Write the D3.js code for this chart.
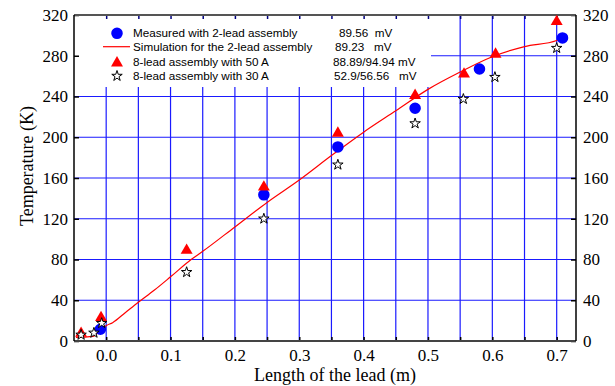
<!DOCTYPE html>
<html>
<head>
<meta charset="utf-8">
<script src="https://cdn.jsdelivr.net/npm/d3@7"></script>
<style>
  body { margin: 0; background: #fff; }
  svg { display: block; }
  .legend text { font-family: "Liberation Sans", Arial, sans-serif; font-size: 11.7px; white-space: pre; }
</style>
</head>
<body>
<div id="chart"></div>
<script>
// data
const measuredX = [-0.009, 0.245, 0.360, 0.480, 0.580, 0.709];
const measuredT = [11.5, 143.5, 190.5, 228.5, 267, 297.5];

const lead50X = [-0.039, -0.008, 0.125, 0.245, 0.360, 0.480, 0.556, 0.605, 0.700];
const lead50T = [7.5, 23, 89, 151, 204, 241, 262, 281.5, 313.5];

const lead30X = [-0.039, -0.019, -0.007, 0.125, 0.245, 0.360, 0.480, 0.555, 0.604, 0.700];
const lead30T = [6, 8, 17.5, 67.5, 120, 173, 213.5, 237.5, 259, 287.5];

const simX = [-0.047, -0.035, -0.02, -0.01, 0.0, 0.01, 0.03, 0.05, 0.075, 0.1, 0.132, 0.15, 0.2,
  0.25, 0.3, 0.35, 0.4, 0.45, 0.5, 0.55, 0.6, 0.65, 0.7, 0.709];
const simT = [3.6, 3.8, 4.5, 10, 15, 18, 28, 38, 50, 63, 80, 88, 112,
  136, 158, 182, 205, 226, 247, 264, 279, 289, 295, 298];

const xTicks = [0, 0.05, 0.1, 0.15, 0.2, 0.25, 0.3, 0.35, 0.4, 0.45, 0.5, 0.55, 0.6, 0.65, 0.7];
const yTicks = [0, 40, 80, 120, 160, 200, 240, 280, 320];

const legendLabels = ["Measured with 2-lead assembly", "Simulation for the 2-lead assembly",
  "8-lead assembly with 50 A", "8-lead assembly with 30 A"];
const legendValues = ["89.56  mV", "89.23   mV", "88.89/94.94 mV", "52.9/56.56   mV"];

const W = 615, H = 386;
const margin = { top: 15, right: 39, bottom: 45, left: 74 };
const serif = '"Liberation Serif", "Times New Roman", serif';

const svg = d3.select("#chart").append("svg")
  .attr("width", W)
  .attr("height", H);

const x = d3.scaleLinear().domain([-0.05, 0.73]).range([margin.left, W - margin.right]);
const y = d3.scaleLinear().domain([0, 320]).range([H - margin.bottom, margin.top]);

// grid
svg.append("g")
  .selectAll("line")
  .data(xTicks)
  .enter()
  .append("line")
  .attr("x1", d => x(d)).attr("x2", d => x(d))
  .attr("y1", y(0)).attr("y2", y(320))
  .attr("stroke", "#1a1aff")
  .attr("stroke-width", 1.2);

svg.append("g")
  .selectAll("line")
  .data(yTicks.slice(1, -1))
  .enter()
  .append("line")
  .attr("x1", x(-0.05)).attr("x2", x(0.73))
  .attr("y1", d => y(d)).attr("y2", d => y(d))
  .attr("stroke", "#1a1aff")
  .attr("stroke-width", 1.2);

// white box behind the legend
svg.append("rect")
  .attr("x", margin.left)
  .attr("y", margin.top)
  .attr("width", 431 - margin.left)
  .attr("height", 87 - margin.top)
  .attr("fill", "#fff");

// axes (ticks point inward)
const fmt = d => (Math.round(d * 100) % 10 === 0) ? d.toFixed(1) : "";
const serifAxis = g => g.attr("font-family", serif).attr("font-size", 17)
  .call(g => g.select(".domain").remove());

svg.append("g")
  .attr("transform", "translate(0," + y(0) + ")")
  .call(d3.axisBottom(x).tickValues(xTicks).tickFormat(fmt).tickSizeInner(-4).tickSizeOuter(0).tickPadding(8))
  .call(serifAxis);

svg.append("g")
  .attr("transform", "translate(0," + y(320) + ")")
  .call(d3.axisTop(x).tickValues(xTicks).tickFormat("").tickSizeInner(-4).tickSizeOuter(0))
  .call(serifAxis)
  .call(g => g.selectAll("line").attr("stroke", "#000080"));

svg.append("g")
  .attr("transform", "translate(" + x(-0.05) + ",0)")
  .call(d3.axisLeft(y).tickValues(yTicks).tickSizeInner(-5).tickSizeOuter(0).tickPadding(6))
  .call(serifAxis);

svg.append("g")
  .attr("transform", "translate(" + x(0.73) + ",0)")
  .call(d3.axisRight(y).tickValues(yTicks).tickSizeInner(-5).tickSizeOuter(0).tickPadding(7))
  .call(serifAxis);

svg.selectAll(".tick line").attr("stroke-width", 1.5);

// frame
svg.append("line").attr("x1", x(-0.05)).attr("x2", x(0.73)).attr("y1", y(320)).attr("y2", y(320))
  .attr("stroke", "#555").attr("stroke-width", 2);
svg.append("line").attr("x1", x(-0.05)).attr("x2", x(0.73)).attr("y1", y(0)).attr("y2", y(0))
  .attr("stroke", "#444").attr("stroke-width", 2);
svg.append("line").attr("x1", x(-0.05)).attr("x2", x(-0.05)).attr("y1", y(0)).attr("y2", y(320))
  .attr("stroke", "#000").attr("stroke-width", 1.5);
svg.append("line").attr("x1", x(0.73)).attr("x2", x(0.73)).attr("y1", y(0)).attr("y2", y(320))
  .attr("stroke", "#000").attr("stroke-width", 1.5);

// simulation curve
const sim = simX.map((d, i) => ({ x: d, t: simT[i] }));
svg.append("path")
  .datum(sim)
  .attr("fill", "none")
  .attr("stroke", "#ff0000")
  .attr("stroke-width", 1.2)
  .attr("d", d3.line().x(d => x(d.x)).y(d => y(d.t)).curve(d3.curveMonotoneX));

// markers
const circle = d3.symbol().type(d3.symbolCircle).size(105);
const tri = d3.symbol().type(d3.symbolTriangle).size(62);
const star = d3.symbol().type(d3.symbolStar).size(34);

svg.append("g")
  .selectAll("path")
  .data(measuredX.map((d, i) => ({ x: d, t: measuredT[i] })))
  .enter()
  .append("path")
  .attr("d", circle)
  .attr("transform", d => "translate(" + x(d.x) + "," + y(d.t) + ")")
  .attr("fill", "#0000ff");

svg.append("g")
  .selectAll("path")
  .data(lead50X.map((d, i) => ({ x: d, t: lead50T[i] })))
  .enter()
  .append("path")
  .attr("d", tri)
  .attr("transform", d => "translate(" + x(d.x) + "," + y(d.t) + ")")
  .attr("fill", "#ff0000");

svg.append("g")
  .selectAll("path")
  .data(lead30X.map((d, i) => ({ x: d, t: lead30T[i] })))
  .enter()
  .append("path")
  .attr("d", star)
  .attr("transform", d => "translate(" + x(d.x) + "," + y(d.t) + ")")
  .attr("fill", "#fff")
  .attr("stroke", "#000")
  .attr("stroke-width", 1);

// legend
const legend = svg.append("g").attr("class", "legend");
const rowY = [33.3, 46.7, 62, 76];
const valueX = [339, 335, 333, 334];

legend.append("path").attr("d", circle).attr("transform", "translate(117," + rowY[0] + ")").attr("fill", "#0000ff");
legend.append("line").attr("x1", 103).attr("x2", 130).attr("y1", rowY[1]).attr("y2", rowY[1])
  .attr("stroke", "#ff0000").attr("stroke-width", 1.2);
legend.append("path").attr("d", tri).attr("transform", "translate(117," + (rowY[2] + 1) + ")").attr("fill", "#ff0000");
legend.append("path").attr("d", star).attr("transform", "translate(117," + rowY[3] + ")")
  .attr("fill", "#fff").attr("stroke", "#000").attr("stroke-width", 1);

legendLabels.forEach((t, i) => {
  legend.append("text").attr("x", 133).attr("y", rowY[i]).attr("dy", "0.35em").text(t);
  legend.append("text").attr("x", valueX[i]).attr("y", rowY[i]).attr("dy", "0.35em").text(legendValues[i]);
});

// axis titles
svg.append("text")
  .attr("transform", "translate(33," + 166 + ") rotate(-90)")
  .attr("text-anchor", "middle")
  .style("font-family", serif)
  .style("font-size", "18px")
  .text("Temperature (K)");

svg.append("text")
  .attr("x", 335)
  .attr("y", 381)
  .attr("text-anchor", "middle")
  .style("font-family", serif)
  .style("font-size", "18px")
  .text("Length of the lead (m)");
</script>
</body>
</html>
